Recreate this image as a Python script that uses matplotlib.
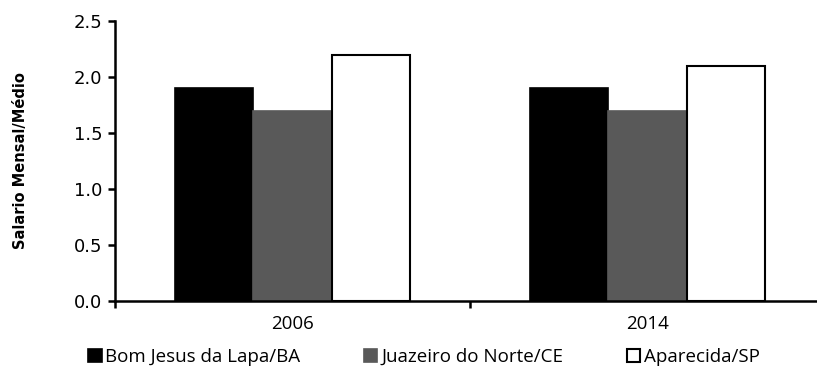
import numpy as np
import matplotlib.pyplot as plt

anos = ['2006', '2014']
lapa = [1.9, 1.9]
juazeiro = [1.7, 1.7]
aparecida = [2.2, 2.1]

fig = plt.figure(figsize=(8.17, 3.73), dpi=100)
ax = fig.add_axes([0.1408, 0.193, 0.869, 0.751])

x = np.arange(len(anos))
w = 0.22
ax.bar(x - w, lapa, w, color='black', edgecolor='black', linewidth=1.2, label='Bom Jesus da Lapa/BA')
ax.bar(x, juazeiro, w, color='#595959', edgecolor='#595959', linewidth=1.2, label='Juazeiro do Norte/CE')
ax.bar(x + w, aparecida, w, color='white', edgecolor='black', linewidth=1.5, label='Aparecida/SP')

ax.set_xlim(-0.5, 1.5)
ax.set_ylim(0, 2.5)
ax.set_yticks(np.arange(0, 2.51, 0.5))
ax.set_yticklabels(['%.1f' % v for v in np.arange(0, 2.51, 0.5)], fontsize=13)
ax.set_xticks(x)
ax.set_xticklabels(anos, fontsize=13.5, fontfamily='Open Sans')
ax.set_xticks([-0.5, 0.5, 1.5], minor=True)
ax.tick_params(axis='x', which='major', length=0, pad=10)
ax.tick_params(axis='x', which='minor', length=5, width=1.8, direction='out')
ax.tick_params(axis='y', length=5, width=1.8, direction='out', pad=4)

for s in ['top', 'right']:
    ax.spines[s].set_visible(False)
ax.spines['left'].set_linewidth(1.8)
ax.spines['bottom'].set_linewidth(1.8)

ax.set_ylabel('Salario Mensal/Médio', fontsize=10.5, fontweight='bold')
ax.yaxis.set_label_coords(-0.122, 0.5)

fig.legend(loc='center', bbox_to_anchor=(0.519, 0.043), ncol=3, frameon=False,
           prop={'family': 'Open Sans', 'size': 13.5}, handlelength=0.7, handleheight=0.7,
           handletextpad=0.2, columnspacing=3.4)

fig.savefig('out.png', dpi=100)
